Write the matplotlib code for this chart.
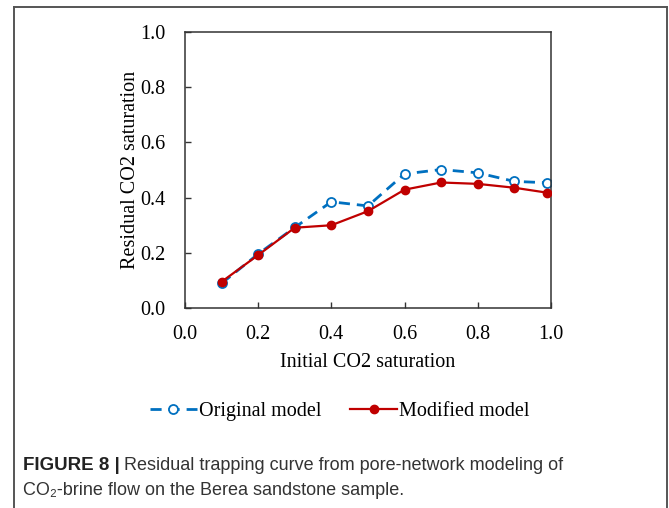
import matplotlib
matplotlib.use("Agg")
import matplotlib.pyplot as plt
from matplotlib.lines import Line2D

# ========== ДАННЫЕ ==========
x_orig = [0.1, 0.2, 0.3, 0.4, 0.5, 0.6, 0.7, 0.8, 0.9, 0.99]
y_orig = [0.089, 0.196, 0.292, 0.385, 0.370, 0.486, 0.502, 0.490, 0.459, 0.454]
x_mod = [0.1, 0.2, 0.3, 0.4, 0.5, 0.6, 0.7, 0.8, 0.9, 0.99]
y_mod = [0.095, 0.192, 0.291, 0.300, 0.351, 0.429, 0.455, 0.450, 0.436, 0.418]
ticks = [0.0, 0.2, 0.4, 0.6, 0.8, 1.0]

BLUE = "#0070C0"
RED = "#C00000"
SERIF = ["Liberation Serif", "DejaVu Serif"]
SANS = ["Liberation Sans", "DejaVu Sans"]
FS = 14.5
# ============================

fig = plt.figure(figsize=(6.69, 5.08), dpi=100)
ax = fig.add_axes([0.2765, 0.3937, 0.547, 0.543])

ax.plot(x_orig, y_orig, color=BLUE, lw=2.0, dashes=(4, 2.5),
        marker="o", ms=6.5, mfc="white", mec=BLUE, mew=1.3,
        label="Original model", zorder=2)
ax.plot(x_mod, y_mod, color=RED, lw=1.6,
        marker="o", ms=6, mfc=RED, mec=RED,
        label="Modified model", zorder=3)

ax.set_xlim(0, 1)
ax.set_ylim(0, 1)
ax.set_xticks(ticks)
ax.set_yticks(ticks)
ax.set_xticklabels([f"{t:.1f}" for t in ticks], family=SERIF, fontsize=FS)
ax.set_yticklabels([f"{t:.1f}" for t in ticks], family=SERIF, fontsize=FS)
ax.tick_params(direction="in", length=4, width=1, color="#333333")
ax.tick_params(axis="x", pad=12)
ax.tick_params(axis="y", pad=14)
for s in ax.spines.values():
    s.set_color("#333333")
    s.set_linewidth(1.1)

ax.set_xlabel("Initial CO2 saturation", family=SERIF, fontsize=FS, labelpad=7)
ax.set_ylabel("Residual CO2 saturation", family=SERIF, fontsize=FS, labelpad=0)

leg = ax.legend(loc="upper center", bbox_to_anchor=(0.423, -0.275), ncol=2,
                frameon=False, handlelength=2.3, columnspacing=1.45,
                handletextpad=0.1, prop={"family": SERIF, "size": FS})

# Рамка вокруг рисунка
frame_kw = dict(color="#555555", lw=1.4, transform=fig.transFigure)
fig.add_artist(Line2D([0.021, 0.021], [0.0, 0.986], **frame_kw))
fig.add_artist(Line2D([0.021, 0.997], [0.986, 0.986], **frame_kw))
fig.add_artist(Line2D([0.997, 0.997], [0.0, 0.986], **frame_kw))

# Подпись
fig.text(0.034, 0.075, "FIGURE 8 |", family=SANS, fontsize=13.5,
         fontweight="bold", color="#222222", va="baseline")
fig.text(0.186, 0.075, "Residual trapping curve from pore-network modeling of",
         family=SANS, fontsize=13, color="#333333", va="baseline")
fig.text(0.034, 0.025, "CO\u2082-brine flow on the Berea sandstone sample.",
         family=SANS, fontsize=13, color="#333333", va="baseline")

fig.savefig("out.png", dpi=100, facecolor="white")
